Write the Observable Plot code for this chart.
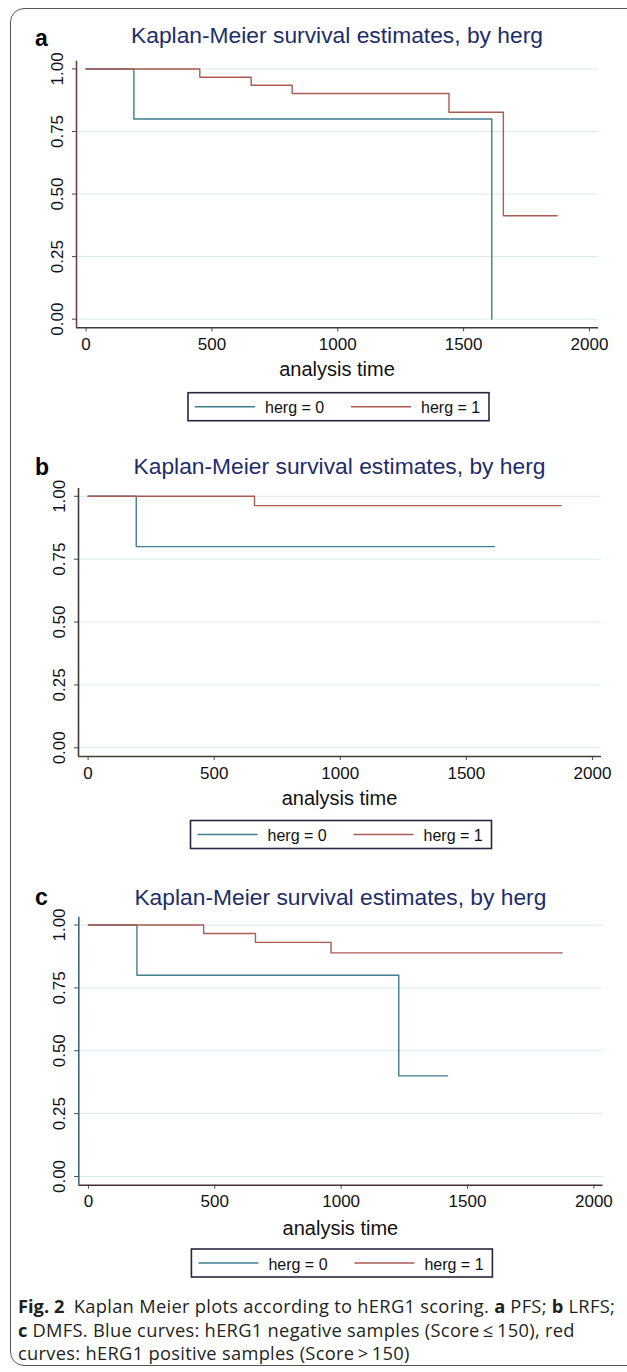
<!DOCTYPE html>
<html><head><meta charset="utf-8">
<script src="https://cdn.jsdelivr.net/npm/d3@7"></script>
<script src="https://cdn.jsdelivr.net/npm/@observablehq/plot@0.6"></script>
<style>
body{margin:0;background:#fff;}
#page{position:relative;width:627px;height:1372px;overflow:hidden;background:#fff;font-family:"Liberation Sans",Arial,sans-serif;}
#frame{position:absolute;left:10px;top:8px;width:660px;height:1358px;border:1.5px solid #555;border-radius:14px;box-sizing:border-box;}
.panel{position:absolute;left:0;width:627px;}
.cap{position:absolute;left:18px;font-family:"Open Sans",sans-serif;font-size:18.3px;letter-spacing:0.3px;color:#231f20;white-space:nowrap;line-height:20px;}
.cap b{font-weight:700;letter-spacing:0;}
</style></head><body>
<div id="page"><div id="frame"></div></div>
<script>
// ---- chart values ----
const xTicks = [0, 500, 1000, 1500, 2000];
const yTicks = [0, 0.25, 0.5, 0.75, 1];
const legendLabels = ["herg = 0", "herg = 1"];
const titleText = "Kaplan-Meier survival estimates, by herg";
const xLabelText = "analysis time";
const panelLetters = ["a", "b", "c"];

// panel a (PFS)
const aTime0 = [0, 190, 1612];
const aSurv0 = [1, 0.8, 0];
const aTime1 = [0, 452, 656, 819, 1442, 1658, 1872];
const aSurv1 = [1, 0.967, 0.935, 0.902, 0.827, 0.413, 0.413];
// panel b (LRFS)
const bTime0 = [0, 191, 1612];
const bSurv0 = [1, 0.8, 0.8];
const bTime1 = [0, 660, 1876];
const bSurv1 = [1, 0.963, 0.963];
// panel c (DMFS)
const cTime0 = [0, 192, 1228, 1421];
const cSurv0 = [1, 0.8, 0.4, 0.4];
const cTime1 = [0, 456, 661, 960, 1874];
const cSurv1 = [1, 0.966, 0.931, 0.889, 0.889];

const captionLines = [
  [["b","Fig. 2"],["t","\u2002Kaplan Meier plots according to hERG1 scoring. "],["b","a"],["t"," PFS; "],["b","b"],["t"," LRFS;"]],
  [["b","c"],["t"," DMFS. Blue curves: hERG1 negative samples (Score\u2009\u2264\u2009150), red"]],
  [["t","curves: hERG1 positive samples (Score\u2009>\u2009150)"]]
];

// ---- styling ----
const blue = "#3f7e90";
const red = "#ad5a52";
const titleColor = "#1d2d6a";
const xDomain = [-38, 2036];
const yDomain = [-0.0346, 1.031];

const panels = [
  {letter: panelLetters[0], t0: aTime0, s0: aSurv0, t1: aTime1, s1: aSurv1,
   top: 0, mt: 60.7, mb: 102.7, ml: 76, mr: 29, titleY: 43, letterY: 46, xlabY: 376, legY: 392.7, yAxisColor: "#6a4642", xAxisColor: "#3a3a3a"},
  {letter: panelLetters[1], t0: bTime0, s0: bSurv0, t1: bTime1, s1: bSurv1,
   top: 430, mt: 58, mb: 104, ml: 78, mr: 26, titleY: 43.5, letterY: 44.5, xlabY: 375, legY: 390.5, yAxisColor: "#3d3d3d", xAxisColor: "#4a3b3b"},
  {letter: panelLetters[2], t0: cTime0, s0: cSurv0, t1: cTime1, s1: cSurv1,
   top: 860, mt: 56.7, mb: 105.3, ml: 78.3, mr: 24.5, titleY: 45, letterY: 45, xlabY: 375, legY: 389, yAxisColor: "#3e6b79", xAxisColor: "#4a2f2f"}
];

const H = 430, W = 627;
const page = document.getElementById("page");

for (const p of panels) {
  const d0 = p.t0.map((t, i) => ({t, s: p.s0[i]}));
  const d1 = p.t1.map((t, i) => ({t, s: p.s1[i]}));
  const svg = Plot.plot({
    width: W, height: H,
    marginTop: p.mt, marginBottom: p.mb, marginLeft: p.ml, marginRight: p.mr,
    style: {fontFamily: "'Liberation Sans', Arial, sans-serif", color: "#111", background: "transparent", overflow: "visible"},
    x: {domain: xDomain},
    y: {domain: yDomain},
    marks: [
      Plot.gridY({ticks: yTicks, stroke: "#d9ecec", strokeOpacity: 1, strokeWidth: 1}),
      Plot.axisY({ticks: yTicks, tickFormat: d3.format(".2f"), tickRotate: -90, tickSize: 4, tickPadding: 10, fontSize: 17, label: null, stroke: "#444", fill: "#111"}),
      Plot.axisX({ticks: xTicks, tickFormat: d3.format("d"), tickSize: 4, tickPadding: 6, fontSize: 17, label: null, stroke: "#444", fill: "#111"}),
      Plot.ruleX([xDomain[0]], {stroke: p.yAxisColor, strokeWidth: 1.6}),
      Plot.ruleY([yDomain[0]], {stroke: p.xAxisColor, strokeWidth: 1.6}),
      Plot.line(d0, {x: "t", y: "s", curve: "step-after", stroke: blue, strokeWidth: 1.4}),
      Plot.line(d1, {x: "t", y: "s", curve: "step-after", stroke: red, strokeWidth: 1.4})
    ]
  });
  const s = d3.select(svg);
  const cx = (p.ml + (W - p.mr)) / 2;
  // panel letter
  s.append("text").attr("x", 35).attr("y", p.letterY).attr("text-anchor", "start")
    .attr("font-size", 23).attr("font-weight", 700).attr("fill", "#000").text(p.letter);
  // title
  s.append("text").attr("x", cx).attr("y", p.titleY).attr("text-anchor", "middle")
    .attr("font-size", 21.5).attr("fill", titleColor)
    .attr("textLength", 412).attr("lengthAdjust", "spacingAndGlyphs").text(titleText);
  // x label
  s.append("text").attr("x", cx).attr("y", p.xlabY).attr("text-anchor", "middle")
    .attr("font-size", 20).attr("fill", "#111").text(xLabelText);
  // legend
  const lw = 301, lh = 28, lx = cx - lw / 2 + 1.5, ly = p.legY;
  const g = s.append("g");
  g.append("rect").attr("x", lx).attr("y", ly).attr("width", lw).attr("height", lh)
    .attr("fill", "#fff").attr("stroke", "#2a2540").attr("stroke-width", 1.6);
  const items = [{c: blue, x: 7, label: legendLabels[0]}, {c: red, x: 163, label: legendLabels[1]}];
  for (const it of items) {
    g.append("line").attr("x1", lx + it.x).attr("x2", lx + it.x + 60)
      .attr("y1", ly + lh / 2).attr("y2", ly + lh / 2).attr("stroke", it.c).attr("stroke-width", 1.4);
    g.append("text").attr("x", lx + it.x + 70).attr("y", ly + 20.5).attr("text-anchor", "start")
      .attr("font-size", 16).attr("fill", "#111").text(it.label);
  }
  const div = document.createElement("div");
  div.className = "panel";
  div.style.top = p.top + "px";
  div.appendChild(svg);
  page.appendChild(div);
}

// caption
const capTops = [1296, 1320, 1343];
captionLines.forEach((line, i) => {
  const div = document.createElement("div");
  div.className = "cap";
  div.style.top = capTops[i] + "px";
  for (const [k, txt] of line) {
    const el = document.createElement(k === "b" ? "b" : "span");
    el.textContent = txt;
    div.appendChild(el);
  }
  page.appendChild(div);
});
</script>
</body></html>
